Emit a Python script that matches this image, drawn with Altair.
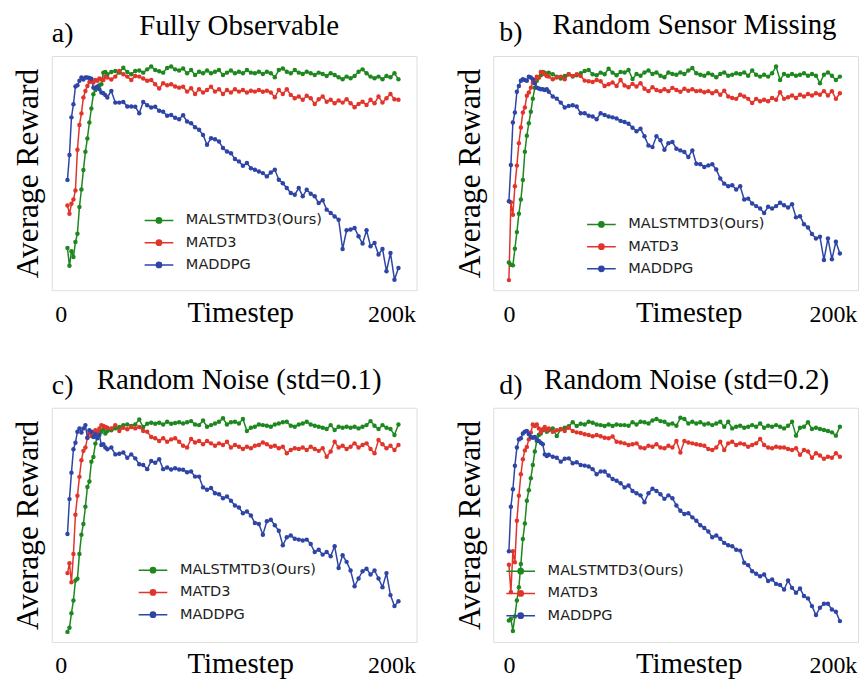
import altair as alt
import pandas as pd

# evaluation timesteps (thousands): dense at the start, then every 2.4k
TIMESTEP_K = [round(1.2 * i, 1) for i in range(20)] + [round(24 + 2.4 * j, 1) for j in range(74)]

METHODS = ["MALSTMTD3(Ours)", "MATD3", "MADDPG"]
COLORS = ["#1f871f", "#e1352b", "#2e45a6"]

# ---------------- a) Fully Observable ----------------
A_MALSTM = [18.0, 10.4, 16.6, 14.2, 20.6, 24.1, 35.5, 43.0, 51.3, 59.1, 64.8, 71.6, 77.6, 83.7, 85.5, 86.5, 87.5, 87.9, 92.9, 93.2] + [
    92.2, 93.2, 93.6, 92.9, 95.0, 93.2, 92.2, 93.6, 93.8, 92.9, 94.3, 95.5, 94.0, 93.5, 92.9, 94.9, 95.5, 94.3, 93.8,
    94.7, 92.6, 94.0, 91.9, 93.3, 92.6, 93.8, 92.6, 93.3, 94.0,
    91.9, 92.9, 93.8, 92.6, 93.3, 92.6, 94.0, 92.9, 92.6, 93.3,
    92.3, 93.3, 92.6, 90.9, 94.0, 94.7, 93.3, 92.6, 94.0, 92.9,
    92.3, 93.3, 92.6, 91.9, 92.9, 92.3, 91.5, 92.6, 91.9, 90.9,
    90.1, 91.2, 90.5, 91.5, 93.3, 94.3, 92.6, 91.2, 90.5, 91.2,
    90.1, 91.5, 90.9, 92.6, 90.1]
A_MATD3 = [36.2, 32.6, 36.9, 38.7, 42.6, 60.0, 70.5, 75.5, 82.3, 85.1, 87.2, 88.9, 89.4, 88.7, 89.8, 89.4, 90.4, 90.0, 89.8, 91.2] + [
    90.8, 90.0, 91.2, 93.6, 92.2, 91.2, 89.8, 91.5, 91.2, 90.4, 89.4, 89.8, 87.9, 86.1, 88.4, 87.5, 87.9, 87.0, 86.5,
    86.9, 84.8, 86.2, 83.8, 85.8, 84.4, 85.5, 86.9, 84.8, 85.8,
    83.8, 85.5, 84.4, 85.8, 84.8, 85.5, 84.4, 85.2, 84.8, 85.5,
    84.7, 85.2, 84.4, 82.4, 85.5, 83.8, 85.8, 83.4, 82.0, 82.7,
    81.3, 83.0, 82.0, 79.5, 81.5, 82.7, 80.5, 81.3, 79.8, 81.0,
    80.1, 81.5, 79.8, 78.1, 79.5, 80.5, 79.1, 81.3, 79.8, 82.7,
    80.1, 82.0, 83.8, 81.5, 81.3]
A_MADDPG = [47.1, 57.7, 73.8, 79.4, 87.0, 87.5, 89.4, 90.8, 90.0, 90.8, 90.8, 90.6, 90.3, 86.5, 86.5, 87.0, 85.8, 84.4, 84.1, 83.3] + [
    82.3, 85.1, 80.1, 80.1, 80.4, 78.4, 78.4, 78.3, 75.6, 80.4, 79.0, 78.0, 78.3, 76.6, 76.2, 74.5, 74.8, 73.6, 73.0,
    74.7, 72.0, 71.3, 69.6, 68.5, 66.3, 62.1, 64.9, 64.5, 63.5,
    60.7, 59.2, 58.5, 56.0, 55.0, 53.1, 54.3, 52.1, 51.4, 50.7,
    50.0, 48.6, 50.3, 51.4, 47.2, 45.7, 43.6, 41.5, 40.8, 43.6,
    40.1, 42.9, 41.2, 40.1, 37.2, 38.4, 34.4, 33.0, 31.5, 30.1,
    17.6, 25.6, 25.9, 26.6, 23.0, 19.9, 25.6, 18.8, 20.2, 15.2,
    17.6, 8.1, 15.9, 4.5, 9.5]

# ---------------- b) Random Sensor Missing ----------------
B_MALSTM = [11.8, 10.9, 10.6, 17.7, 24.8, 32.6, 38.7, 47.1, 59.1, 66.0, 71.3, 76.2, 81.8, 86.5, 89.4, 90.8, 91.8, 93.2, 92.9, 92.2] + [
    92.9, 92.2, 91.2, 90.4, 91.5, 92.2, 91.2, 91.8, 92.6, 93.6, 94.0, 92.2, 91.8, 92.9, 92.2, 94.6, 92.9, 91.8, 93.2,
    93.0, 94.0, 90.2, 92.3, 91.6, 93.0, 93.8, 92.3, 93.0, 91.6,
    90.9, 93.0, 92.3, 92.0, 93.0, 92.3, 93.8, 94.9, 92.6, 92.0,
    91.6, 92.6, 92.0, 90.9, 92.3, 93.0, 91.6, 92.0, 92.6, 92.3,
    93.0, 91.6, 93.8, 92.0, 91.2, 92.0, 91.2, 92.6, 95.5, 89.8,
    92.3, 91.6, 92.3, 91.6, 92.0, 92.6, 91.6, 92.3, 91.6, 88.4,
    92.0, 93.0, 91.6, 89.8, 91.2]
B_MATD3 = [4.3, 37.6, 32.2, 44.4, 53.2, 62.8, 69.5, 75.9, 78.0, 83.0, 84.4, 86.5, 88.7, 89.8, 91.2, 90.8, 93.2, 92.9, 92.2, 91.5] + [
    91.2, 90.1, 90.8, 91.2, 90.1, 92.2, 91.5, 92.2, 91.5, 89.5, 89.2, 88.9, 89.8, 89.2, 87.2, 87.9, 88.7, 87.2, 89.8,
    87.4, 86.7, 88.1, 87.0, 88.4, 86.0, 85.0, 86.7, 85.5, 85.0,
    85.8, 85.0, 86.4, 85.5, 84.7, 86.0, 85.2, 85.8, 85.0, 85.2,
    84.5, 85.0, 84.1, 85.0, 83.5, 85.2, 82.7, 82.1, 81.7, 83.5,
    82.7, 81.7, 79.9, 81.7, 80.7, 81.3, 80.7, 82.1, 81.3, 84.5,
    81.7, 82.4, 83.1, 82.1, 83.5, 82.7, 83.8, 83.1, 84.1, 83.5,
    85.0, 83.1, 85.0, 81.7, 84.1]
B_MADDPG = [38.0, 53.5, 71.6, 75.9, 84.7, 87.2, 89.4, 90.1, 89.8, 89.4, 91.2, 90.8, 90.1, 88.4, 86.5, 86.1, 85.8, 85.8, 85.5, 85.8] + [
    84.7, 82.7, 81.8, 80.1, 78.0, 78.7, 79.0, 78.4, 75.6, 75.6, 74.5, 74.2, 73.0, 75.6, 74.8, 74.2, 73.8, 73.3, 72.3,
    71.8, 71.1, 69.4, 67.9, 68.9, 65.7, 61.8, 61.1, 65.7, 64.0,
    60.0, 62.8, 63.3, 60.4, 59.7, 59.0, 56.9, 59.7, 54.0, 53.8,
    52.6, 53.3, 53.8, 51.5, 47.7, 45.5, 44.4, 44.8, 43.0, 44.4,
    38.7, 39.1, 37.0, 35.9, 34.9, 33.0, 35.6, 34.9, 35.9, 37.3,
    36.3, 35.3, 36.7, 31.1, 31.6, 28.2, 26.8, 24.0, 22.1, 22.8,
    12.9, 22.1, 13.2, 20.7, 15.7]

# ---------------- c) Random Noise (std=0.1) ----------------
C_MALSTM = [4.3, 6.1, 12.3, 17.7, 26.2, 27.0, 37.6, 45.8, 50.4, 57.7, 66.2, 68.5, 77.0, 79.0, 84.7, 87.5, 89.4, 89.8, 90.8, 89.0] + [
    90.1, 90.4, 91.2, 91.8, 92.6, 92.9, 92.2, 92.9, 95.0, 91.8, 93.2, 93.6, 93.2, 93.6, 92.9, 94.0, 93.2, 93.5, 93.8,
    93.3, 93.8, 94.3, 92.9, 92.6, 94.6, 91.9, 92.6, 93.3, 94.0,
    95.5, 92.9, 93.8, 94.0, 93.3, 95.2, 90.1, 91.5, 91.9, 92.9,
    92.6, 92.3, 91.9, 92.9, 93.3, 93.8, 94.0, 92.3, 91.9, 92.9,
    93.3, 94.0, 92.9, 92.3, 91.9, 91.5, 90.9, 92.6, 90.5, 91.9,
    91.5, 91.9, 91.5, 91.9, 91.2, 91.9, 92.6, 94.3, 92.3, 90.9,
    92.6, 91.5, 90.9, 88.4, 92.9]
C_MATD3 = [29.4, 33.6, 25.5, 37.6, 54.3, 62.4, 70.5, 77.6, 81.6, 83.0, 87.2, 89.4, 88.0, 89.4, 90.4, 89.8, 91.2, 92.6, 92.2, 91.8] + [
    91.5, 91.2, 92.6, 90.1, 91.5, 90.8, 91.8, 91.2, 91.8, 90.1, 89.8, 87.5, 87.0, 85.8, 87.0, 85.5, 86.5, 87.0, 85.5,
    83.8, 83.0, 86.7, 85.2, 85.8, 84.4, 85.8, 84.8, 83.8, 84.8,
    84.1, 85.5, 83.0, 84.1, 83.4, 82.4, 83.4, 82.7, 83.8, 84.1,
    85.2, 84.4, 83.4, 83.8, 82.7, 83.4, 80.6, 82.0, 82.7, 82.4,
    83.0, 82.0, 83.4, 82.4, 81.6, 82.7, 79.1, 81.3, 85.5, 83.0,
    83.8, 82.4, 83.4, 84.8, 83.0, 84.1, 84.8, 82.4, 80.6, 86.2,
    84.4, 82.7, 83.8, 82.0, 84.1]
C_MADDPG = [46.1, 61.0, 72.3, 82.3, 85.1, 89.8, 91.2, 89.4, 91.2, 92.6, 87.2, 90.4, 89.8, 87.5, 88.7, 87.0, 88.4, 84.1, 84.4, 83.0] + [
    82.3, 83.0, 80.1, 80.4, 80.9, 78.7, 80.1, 78.4, 75.9, 75.6, 73.8, 77.3, 76.5, 78.0, 73.8, 74.5, 73.6, 74.2, 73.6,
    73.5, 72.5, 72.8, 70.6, 70.6, 66.0, 65.0, 65.7, 63.5, 63.1,
    61.4, 62.1, 60.3, 58.3, 57.4, 55.0, 55.7, 54.0, 50.8, 50.4,
    45.8, 51.5, 52.2, 49.8, 47.5, 41.3, 44.7, 45.5, 44.1, 43.7,
    43.3, 43.7, 41.8, 38.4, 39.4, 37.3, 38.4, 36.6, 40.9, 31.6,
    37.0, 34.2, 30.5, 23.8, 27.1, 30.2, 31.3, 28.8, 30.5, 27.1,
    23.4, 29.4, 20.0, 15.3, 17.4]

# ---------------- d) Random Noise (std=0.2) ----------------
D_MALSTM = [9.2, 9.9, 4.7, 10.9, 17.7, 23.4, 33.3, 44.0, 50.6, 60.3, 64.8, 69.9, 75.6, 81.3, 85.8, 88.4, 89.0, 90.4, 90.8, 89.8] + [
    90.4, 91.2, 87.9, 90.8, 91.5, 92.1, 93.8, 92.2, 93.2, 92.9, 94.0, 93.6, 92.9, 92.6, 92.2, 92.9, 92.2, 92.9, 92.6,
    92.6, 92.3, 93.8, 92.9, 94.0, 93.8, 93.3, 94.6, 95.2, 94.3,
    94.0, 92.9, 93.3, 92.3, 95.7, 95.2, 93.3, 94.0, 93.3, 93.8,
    92.9, 93.3, 92.6, 93.3, 94.0, 91.9, 94.0, 91.2, 91.9, 92.3,
    91.5, 91.9, 92.6, 91.9, 93.3, 91.5, 92.3, 91.9, 92.6, 91.9,
    91.2, 92.3, 94.0, 88.1, 91.5, 91.9, 93.8, 90.9, 91.5, 90.9,
    90.5, 90.1, 89.5, 88.1, 91.9]
D_MATD3 = [33.0, 21.3, 38.7, 34.0, 51.8, 62.4, 71.6, 78.0, 81.8, 83.3, 86.5, 89.4, 92.9, 92.2, 92.9, 91.2, 89.4, 90.8, 91.8, 90.4] + [
    91.2, 89.8, 90.4, 90.9, 90.1, 91.5, 90.1, 89.5, 89.2, 88.7, 88.4, 87.8, 88.4, 87.8, 87.2, 87.0, 87.7, 85.5, 85.2,
    84.8, 84.1, 84.4, 84.8, 83.0, 82.7, 83.8, 83.4, 84.4, 83.0,
    82.7, 83.8, 83.0, 85.8, 80.9, 85.8, 85.2, 84.8, 84.4, 84.1,
    83.8, 82.4, 82.0, 83.0, 85.5, 82.0, 84.8, 85.5, 84.1, 84.8,
    84.4, 83.4, 84.1, 84.8, 86.7, 84.1, 83.0, 82.7, 83.4, 83.0,
    83.0, 82.4, 82.0, 82.7, 79.9, 82.0, 81.3, 78.7, 80.6, 79.6,
    78.2, 79.1, 78.7, 80.6, 79.1]
D_MADDPG = [38.7, 57.7, 65.2, 75.2, 83.0, 86.5, 87.0, 89.0, 89.8, 90.1, 88.7, 87.5, 87.2, 87.5, 86.5, 85.8, 85.1, 84.4, 80.1, 79.4] + [
    79.9, 79.1, 78.7, 77.0, 78.2, 78.4, 76.3, 76.7, 75.6, 75.3, 74.9, 73.8, 71.6, 72.8, 72.8, 71.1, 69.6, 68.8, 67.8,
    66.0, 66.8, 64.5, 63.5, 62.6, 59.7, 63.5, 65.4, 64.5, 63.1,
    61.1, 62.6, 61.4, 58.3, 56.0, 54.6, 55.0, 53.2, 51.8, 49.8,
    48.7, 47.2, 44.7, 45.5, 44.1, 42.3, 41.3, 40.9, 39.4, 39.0,
    33.8, 32.8, 30.2, 29.1, 28.1, 28.8, 26.0, 26.7, 24.8, 24.3,
    22.4, 26.2, 23.1, 21.0, 22.8, 19.6, 18.6, 15.3, 11.5, 14.6,
    16.3, 16.3, 13.9, 12.9, 8.9]

PANEL_LETTERS = ["a)", "b)", "c)", "d)"]
PANEL_TITLES = ["Fully Observable", "Random Sensor Missing", "Random Noise (std=0.1)", "Random Noise (std=0.2)"]
TICK_LABELS = ["0", "200k"]

SERIF = "Liberation Serif"
SYMBOL_PATH = "M-1.25,0H1.25M-0.23,0A0.23,0.23,0,1,0,0.23,0A0.23,0.23,0,1,0,-0.23,0Z"
W, H = 366, 235


def long_df(series):
    rows = []
    for m, vals in zip(METHODS, series):
        assert len(vals) == len(TIMESTEP_K), (m, len(vals))
        for t, v in zip(TIMESTEP_K, vals):
            rows.append({"timestep": t, "reward": v, "method": m})
    return pd.DataFrame(rows)


def panel(k, series, legend_x, legend_y, xticks, xtitle_x, letter_xy, title_xy):
    df = long_df(series)
    base = alt.Chart(df).encode(
        x=alt.X(
            "timestep:Q",
            scale=alt.Scale(domain=[-9.4, 210.1], nice=False, zero=False),
            axis=alt.Axis(
                values=xticks,
                labelExpr=f"datum.value < 100 ? '{TICK_LABELS[0]}' : '{TICK_LABELS[1]}'",
                title="Timestep", titleFont=SERIF, titleFontSize=29, titleFontWeight="normal",
                titleColor="black", titleBaseline="alphabetic", titleY=31, titleX=xtitle_x,
                labelFont=SERIF, labelFontSize=24, labelColor="black", labelBaseline="alphabetic",
                labelPadding=31, labelFlush=False, ticks=False, tickSize=0, domain=False, grid=False,
            ),
        ),
        y=alt.Y(
            "reward:Q",
            scale=alt.Scale(domain=[0, 100], nice=False, zero=False),
            axis=alt.Axis(
                labels=False, ticks=False, tickSize=0, domain=False, grid=False,
                title="Average Reward", titleFont=SERIF, titleFontSize=31.5, titleFontWeight="normal",
                titleColor="black", titlePadding=7,
            ),
        ),
        color=alt.Color(
            "method:N",
            scale=alt.Scale(domain=METHODS, range=COLORS),
            sort=METHODS,
            legend=alt.Legend(
                title=None, orient="none", legendX=legend_x, legendY=legend_y,
                symbolType=SYMBOL_PATH, symbolSize=529, symbolStrokeWidth=1.5,
                labelFont="DejaVu Sans", labelFontSize=14.6, labelColor="#222222",
                labelOffset=14.5, rowPadding=2.3, padding=0, symbolOpacity=1,
            ),
        ),
    )
    lines = base.mark_line(strokeWidth=1.5)
    pts = base.mark_point(filled=True, size=20, opacity=1)
    heads = pd.DataFrame({"letter": [PANEL_LETTERS[k]], "title": [PANEL_TITLES[k]]})
    letter = alt.Chart(heads).mark_text(
        font=SERIF, fontSize=28, align="left", baseline="alphabetic", color="black"
    ).encode(text="letter:N", x=alt.value(letter_xy[0]), y=alt.value(letter_xy[1]))
    title = alt.Chart(heads).mark_text(
        font=SERIF, fontSize=29, align="center", baseline="alphabetic", color="black"
    ).encode(text="title:N", x=alt.value(title_xy[0]), y=alt.value(title_xy[1]))
    return alt.layer(lines, pts, letter, title).properties(width=W, height=H)


pa = panel(0, [A_MALSTM, A_MATD3, A_MADDPG], 95, 152.5, [-4, 195], 189, (0, -14), (188, -21))
pb = panel(1, [B_MALSTM, B_MATD3, B_MADDPG], 96, 156.5, [0, 195], 196, (6, -15), (202, -22))
pc = panel(2, [C_MALSTM, C_MATD3, C_MADDPG], 89, 150.5, [-4, 195], 189, (0, -14), (188, -19))
pd_ = panel(3, [D_MALSTM, D_MATD3, D_MADDPG], 15, 151.5, [0, 195], 196, (6, -14), (194, -19))

chart = alt.vconcat(
    alt.hconcat(pa, pb, spacing=36).resolve_scale(color="independent"),
    alt.hconcat(pc, pd_, spacing=36).resolve_scale(color="independent"),
    spacing=37,
).resolve_scale(color="independent").properties(
    padding={"left": 4, "top": 1, "right": 0, "bottom": 0}
).configure_view(
    stroke="#555555", strokeWidth=1.1
).configure(background="white")

chart.save("out.html", embed_options={"renderer": "svg", "actions": False})
